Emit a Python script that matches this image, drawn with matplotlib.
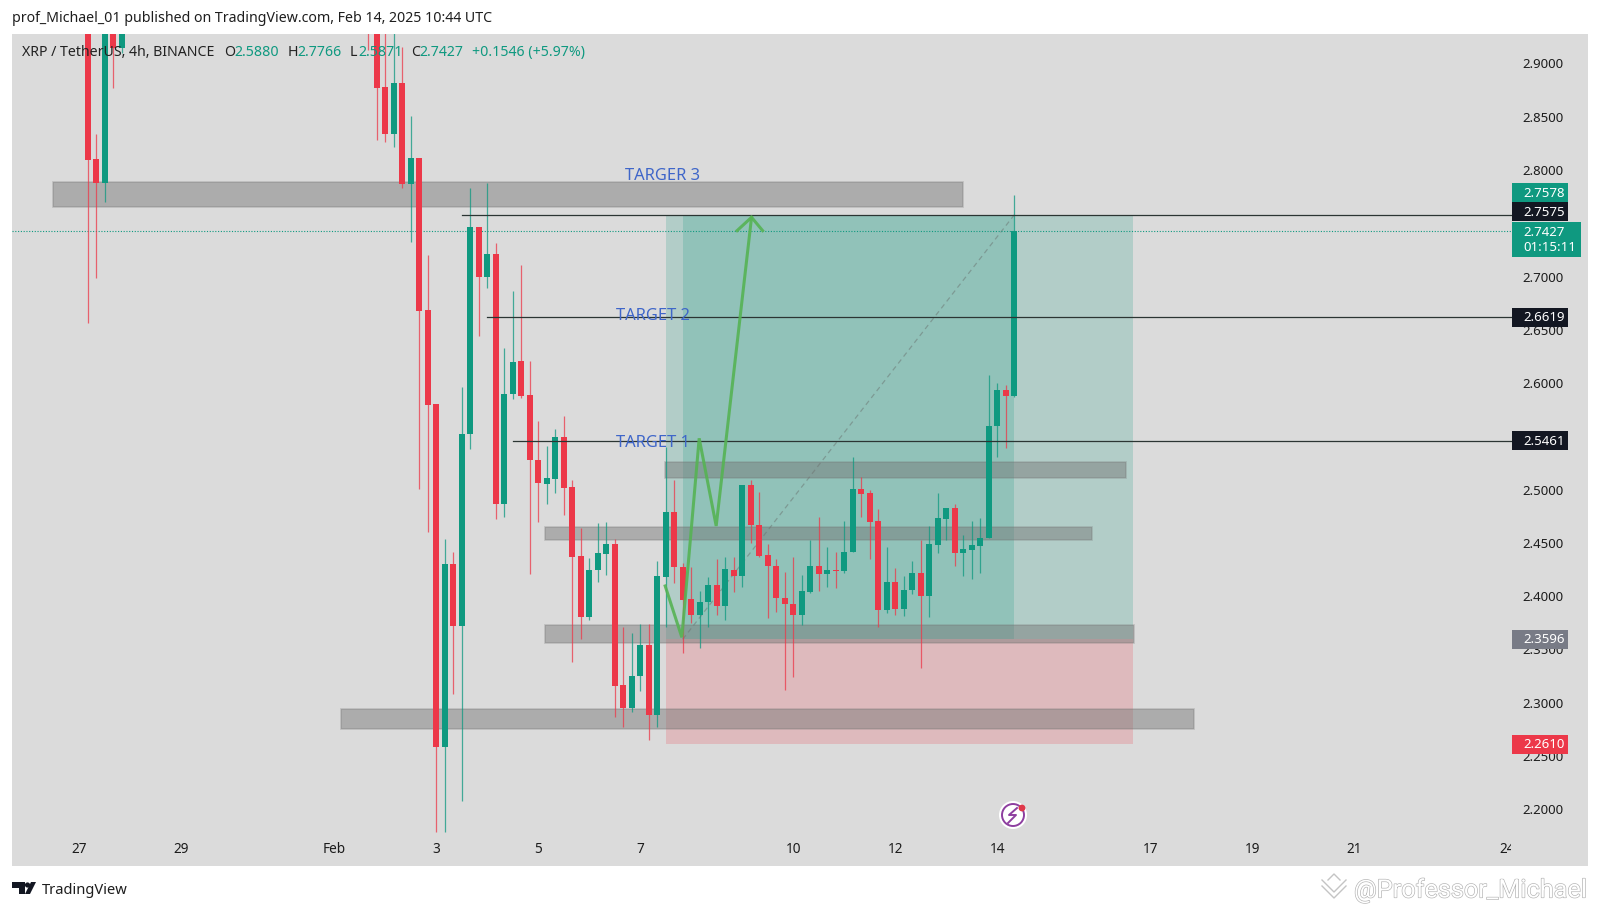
import matplotlib
matplotlib.use('Agg')
import numpy as np
import matplotlib.pyplot as plt
from matplotlib.patches import Rectangle, Circle, Polygon
from matplotlib.lines import Line2D
from matplotlib.transforms import Affine2D, Bbox
import matplotlib.patheffects as pe

plt.rcParams['font.family'] = ['Noto Sans', 'DejaVu Sans']

GREEN = '#0f9980'
RED = '#ec3849'
DARK = '#131722'
BLUE = '#3f66c9'
ARROW = '#56b354'

# bar number: 4h bars counted from Feb 14 00:00
bars = list(range(-107, -102)) + list(range(-74, 3))

opens = [2.95, 2.8103, 2.7881, 2.96, 2.9148,
         2.96, 2.95, 2.8775, 2.8334, 2.8813, 2.7868, 2.8109, 2.6686, 2.5804, 2.2588,
         2.4302, 2.3720, 2.5522, 2.7461, 2.6998, 2.7211, 2.4862, 2.5895, 2.6211, 2.5885,
         2.5278, 2.5056, 2.5103, 2.5494, 2.5025, 2.4377, 2.3802, 2.4246, 2.4396, 2.4493,
         2.3163, 2.2948, 2.3251, 2.3539, 2.2885, 2.4183, 2.4793, 2.4277, 2.3970, 2.3823,
         2.3942, 2.4108, 2.3911, 2.4245, 2.4189, 2.5040, 2.4668, 2.4386, 2.4286, 2.3986,
         2.3930, 2.3823, 2.4039, 2.4286, 2.4208, 2.4245, 2.4236, 2.4411, 2.5003, 2.4965,
         2.4702, 2.3870, 2.4133, 2.3880, 2.4058, 2.4217, 2.4005, 2.4483, 2.4727, 2.4831,
         2.4405, 2.4436, 2.4474, 2.4543, 2.5600, 2.5935, 2.5880]
closes = [2.8093, 2.7881, 2.96, 2.9148, 2.95,
          2.94, 2.8772, 2.8334, 2.8813, 2.7868, 2.8109, 2.6680, 2.5795, 2.2588, 2.4302,
          2.3720, 2.5522, 2.7461, 2.6998, 2.7211, 2.4862, 2.5901, 2.6201, 2.5879, 2.5275,
          2.5059, 2.5106, 2.5494, 2.5019, 2.4371, 2.3808, 2.4246, 2.4402, 2.4493, 2.3157,
          2.2948, 2.3254, 2.3539, 2.2885, 2.4190, 2.4793, 2.4277, 2.3964, 2.3823, 2.3945,
          2.4108, 2.3911, 2.4255, 2.4189, 2.5040, 2.4668, 2.4380, 2.4280, 2.3980, 2.3926,
          2.3823, 2.4048, 2.4286, 2.4208, 2.4242, 2.4233, 2.4414, 2.5003, 2.4956, 2.4696,
          2.3870, 2.4133, 2.3880, 2.4058, 2.4217, 2.4005, 2.4486, 2.4730, 2.4831, 2.4408,
          2.4439, 2.4480, 2.4543, 2.5600, 2.5935, 2.5880, 2.7427]
highs = [2.97, 2.8334, 2.98, 2.97, 2.96,
         2.97, 2.96, 2.94, 2.93, 2.9157, 2.8506, 2.8109, 2.7202, 2.5804, 2.4534,
         2.4412, 2.5960, 2.7827, 2.7461, 2.7881, 2.7311, 2.6333, 2.6867, 2.7108, 2.6211,
         2.5648, 2.5410, 2.5566, 2.5691, 2.5091, 2.4637, 2.4356, 2.4684, 2.4700, 2.4534,
         2.3714, 2.3651, 2.3739, 2.3736, 2.4333, 2.5403, 2.5090, 2.4308, 2.4277, 2.4048,
         2.4183, 2.4352, 2.4371, 2.4371, 2.5040, 2.5090, 2.4978, 2.4490, 2.4349, 2.4230,
         2.4364, 2.4199, 2.4527, 2.4740, 2.4465, 2.4418, 2.4708, 2.5303, 2.5121, 2.4996,
         2.4815, 2.4465, 2.4267, 2.4189, 2.4333, 2.4527, 2.4658, 2.4965, 2.4831, 2.4862,
         2.4574, 2.4708, 2.4730, 2.6075, 2.6000, 2.5985, 2.7766]
lows = [2.6560, 2.6983, 2.7702, 2.8772, 2.91,
        2.9126, 2.8281, 2.8265, 2.8219, 2.7827, 2.7327, 2.5006, 2.4606, 2.1790, 2.1790,
        2.3082, 2.2078, 2.5382, 2.6445, 2.6889, 2.4725, 2.4747, 2.5851, 2.5857, 2.4208,
        2.4700, 2.4862, 2.4966, 2.4762, 2.3386, 2.3598, 2.3777, 2.4133, 2.4196, 2.2863,
        2.2775, 2.2916, 2.3113, 2.2650, 2.2775, 2.3714, 2.4120, 2.3470, 2.3751, 2.3517,
        2.3714, 2.3823, 2.3776, 2.4042, 2.4083, 2.4496, 2.4371, 2.3792, 2.3854, 2.3119,
        2.3244, 2.3729, 2.4027, 2.4052, 2.4089, 2.4073, 2.4214, 2.4411, 2.4746, 2.4346,
        2.3714, 2.3839, 2.3823, 2.3817, 2.4017, 2.3329, 2.3801, 2.4402, 2.4527, 2.4286,
        2.4192, 2.4158, 2.4214, 2.4543, 2.5303, 2.5394, 2.5871]

# support / resistance boxes
zone_left = [-111.1, -39.05, -53.2, -53.2, -77.2]
zone_right = [-4.0, 15.1, 11.2, 16.1, 23.2]
zone_top = [2.7890, 2.5262, 2.4653, 2.3730, 2.2944]
zone_bottom = [2.7652, 2.5112, 2.4528, 2.3558, 2.2757]

# long position tool
pos_left, pos_open, pos_now, pos_right = -39, -37, 2, 16
pos_target, pos_entry, pos_stop = 2.7578, 2.3596, 2.2610

# hand drawn path
path_x = [-39.06, -37.1, -35.06, -33.06, -28.9]
path_y = [2.4096, 2.3614, 2.5482, 2.4659, 2.7556]
head_x = [-30.6, -28.9, -27.6]
head_y = [2.7431, 2.7556, 2.7431]

level_start = [-63, -60, -57]
level_price = [2.7575, 2.6619, 2.5461]

target_names = ['TARGER 3', 'TARGET 2', 'TARGET 1']
target_x = [-39.4, -40.5, -40.5]
target_y = [2.7947, 2.6628, 2.5440]

# 2.55 and 2.75 sit fully behind price tags in the picture, so no label for them
y_ticks = [2.20, 2.25, 2.30, 2.35, 2.40, 2.45, 2.50, 2.60, 2.65, 2.70, 2.80, 2.85, 2.90]
x_days = [-18, -16, -13, -11, -9, -7, -4, -2, 0, 3, 5, 7, 10]
x_names = ['27', '29', 'Feb', '3', '5', '7', '10', '12', '14', '17', '19', '21', '24']

fig = plt.figure(figsize=(16, 9.1), dpi=100, facecolor='white')
ax = fig.add_axes([12 / 1600, 1 - 866 / 910, 1576 / 1600, (866 - 33.5) / 910])
ax.set_facecolor('#dbdbdb')
ax.set_xlim(-115.9, 69.5)
ax.set_ylim(2.1468, 2.9281)
for s in ax.spines.values():
    s.set_visible(False)

# pixel coordinates, origin top left, for things that are not data
px = Affine2D().scale(1 / 1600, -1 / 910).translate(0, 1) + fig.transFigure

# position tool
ax.add_patch(Rectangle((pos_left, pos_entry), pos_right - pos_left, pos_target - pos_entry,
                       fc=GREEN, alpha=0.2, lw=0, zorder=1))
ax.add_patch(Rectangle((pos_open, pos_entry), pos_now - pos_open, pos_target - pos_entry,
                       fc=GREEN, alpha=0.2, lw=0, zorder=1))
ax.add_patch(Rectangle((pos_left, pos_stop), pos_right - pos_left, pos_entry - pos_stop,
                       fc=RED, alpha=0.2, lw=0, zorder=1))
ax.plot([pos_open, pos_now], [pos_entry, pos_target], color='#7d9a94', lw=0.9, ls=(0, (4, 3)), zorder=1.2)

# boxes
for l, r, t, b in zip(zone_left, zone_right, zone_top, zone_bottom):
    ax.add_patch(Rectangle((l, b), r - l, t - b, fc=(0.45, 0.45, 0.45, 0.45),
                           ec=(0.45, 0.45, 0.45, 0.3), lw=1.2, zorder=1.5))

# current price line
ax.axhline(2.7427, color=GREEN, lw=0.8, ls=(0, (1, 1.5)), xmax=0.952, zorder=1.6)

# candles
bars = np.array(bars)
opens = np.array(opens)
closes = np.array(closes)
highs = np.array(highs)
lows = np.array(lows)
colors = np.where(closes >= opens, GREEN, RED)
ax.vlines(bars, lows, highs, colors=colors, lw=0.9, alpha=0.75, zorder=2)
ax.bar(bars, closes - opens, bottom=opens, width=0.7, color=colors, lw=0, zorder=2.2)

# levels
for start, price in zip(level_start, level_price):
    ax.plot([start, 60.6], [price, price], color='#2b3533', lw=0.9, zorder=3)

# green path with arrow head
ax.plot(path_x, path_y, color=ARROW, lw=2.2, alpha=0.9, zorder=3.2, solid_joinstyle='miter')
ax.plot(head_x, head_y, color=ARROW, lw=2.2, alpha=0.9, zorder=3.2, solid_joinstyle='miter')

for name, x, y in zip(target_names, target_x, target_y):
    ax.text(x, y, name, color=BLUE, fontsize=11.9, ha='center', va='center', zorder=3.5)

# axes
ax.yaxis.tick_right()
ax.set_yticks(y_ticks)
ax.set_yticklabels(['%.4f' % v for v in y_ticks])
ax.tick_params(axis='y', length=0, pad=-47, labelsize=9.5, labelcolor='#1c1c1c')
ax.set_xticks([d * 6 for d in x_days])
ax.set_xticklabels(x_names)
ax.tick_params(axis='x', length=0, pad=-17, labelsize=9.8, labelcolor='#1c1c1c')
for lab in ax.get_xticklabels():
    if lab.get_text() == 'Feb':
        lab.set_fontweight('bold')
    if lab.get_text() == '24':
        lab.set_clip_box(Bbox([[0, 0], [1511, 910]]))
        lab.set_clip_on(True)


# price tags on the right
def tag(price, text, color, width=6.6, height=0.0178, fg='white', center=None):
    c = price if center is None else center
    ax.add_patch(Rectangle((60.6, c - height / 2), width, height, fc=color, lw=0, zorder=5))
    ax.text(60.6 + 1.25, c - 0.0006, text, color=fg, fontsize=9.5, fontweight='bold', ha='left',
            va='center', zorder=6, linespacing=1.25)


tag(2.7578, '2.7578', GREEN, center=2.7789)
tag(2.7575, '2.7575', DARK, center=2.7611)
tag(2.7427, '2.7427\n01:15:11', GREEN, width=8.1, height=0.0330, center=2.7347)
tag(2.6619, '2.6619', DARK)
tag(2.5461, '2.5461', DARK)
tag(2.3596, '2.3596', '#787b86')
tag(2.2610, '2.2610', RED)

# header and footer
fig.text(12 / 1600, 1 - 18.5 / 910, 'prof_Michael_01 published on TradingView.com, Feb 14, 2025 10:44 UTC',
         fontsize=10.2, color='#1e1e1e', va='center')

header = [(22, 'XRP / TetherUS, 4h, BINANCE', '#222222'), (224, 'O', '#222222'), (234.6, '2.5880', GREEN),
          (287.5, 'H', '#222222'), (297, '2.7766', GREEN), (350, 'L', '#222222'), (358, '2.5871', GREEN),
          (410.7, 'C', '#222222'), (419.6, '2.7427', GREEN), (472.5, '+0.1546 (+5.97%)', GREEN)]
for x, s, c in header:
    fig.text(x / 1600, 1 - 52.5 / 910, s, fontsize=10.2, color=c, va='center', zorder=7)

# TradingView logo
fig.add_artist(Polygon([(12, 882), (25, 882), (25, 894), (19, 894), (19, 888), (12, 888)], closed=True,
                       fc=DARK, lw=0, transform=px))
fig.add_artist(Circle((27.5, 885), 2.6, fc=DARK, lw=0, transform=px))
fig.add_artist(Polygon([(31, 882), (36, 882), (30, 894), (25, 894)], closed=True, fc=DARK, lw=0, transform=px))
fig.text(42 / 1600, 1 - 890.5 / 910, 'TradingView', fontsize=10.6, color='#1e1e1e', va='center')

# watermark
for dy in (0, 6):
    fig.add_artist(Line2D([1322, 1334, 1346], [880 + dy, 892 + dy, 880 + dy], color='#c4c4c4', lw=1, transform=px))
fig.add_artist(Line2D([1328, 1334, 1340], [880, 874, 880], color='#c4c4c4', lw=1, transform=px))
fig.text(1354 / 1600, 1 - 890 / 910, '@Professor_Michael', fontsize=18.2, color='white', va='center',
         fontfamily='Roboto', path_effects=[pe.withStroke(linewidth=0.9, foreground='#b0b0b0')])

# lightning icon
fig.add_artist(Circle((1013, 815), 14, fc='white', lw=0, transform=px, zorder=8))
fig.add_artist(Circle((1013, 815), 11, fc='white', ec='#8e3fa0', lw=1.4, transform=px, zorder=8))
fig.add_artist(Line2D([1017, 1009, 1016, 1008], [808, 815, 815, 823], color='#8e3fa0', lw=1.4, transform=px, zorder=9))
fig.add_artist(Circle((1022, 808), 3.4, fc='#e0384a', lw=0, transform=px, zorder=9))

fig.savefig('out.png', dpi=100)
